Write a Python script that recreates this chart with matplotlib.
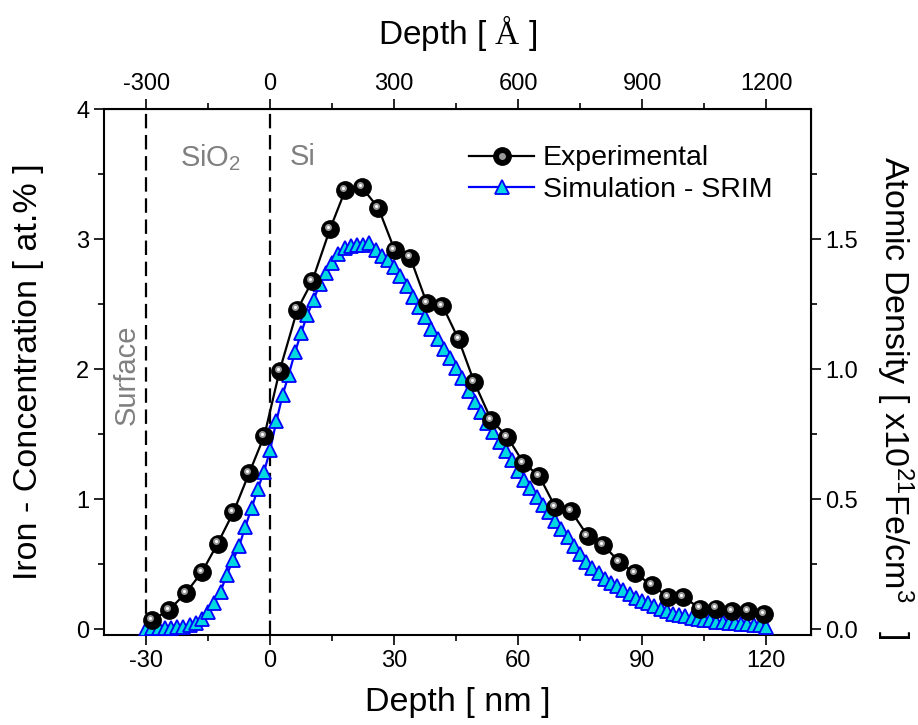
import matplotlib
matplotlib.use('Agg')
import matplotlib.pyplot as plt
import matplotlib.transforms as mtransforms
from matplotlib.lines import Line2D
from matplotlib.legend_handler import HandlerTuple
from matplotlib.ticker import MultipleLocator, FixedLocator, FormatStrFormatter
import numpy as np

plt.rcParams['font.family'] = ['Liberation Sans', 'DejaVu Sans']
plt.rcParams['axes.unicode_minus'] = False
plt.rcParams['mathtext.fontset'] = 'custom'
plt.rcParams['mathtext.rm'] = 'Liberation Sans'
plt.rcParams['mathtext.it'] = 'Liberation Sans:italic'
plt.rcParams['mathtext.cal'] = 'Liberation Serif'

# experimental profile (depth nm, at.%)
exp_depth = [-28.6, -24.4, -20.4, -16.5, -12.7, -8.9, -5.1, -1.4, 2.3, 6.6,
             10.2, 14.5, 18.2, 22.2, 26.2, 30.1, 33.9, 37.9, 41.7, 45.6,
             49.4, 53.5, 57.4, 61.3, 65.1, 69.0, 72.8, 76.8, 80.6, 84.4,
             88.3, 92.4, 96.2, 100.0, 104.0, 107.8, 111.7, 115.6, 119.6]
exp_conc = [0.07, 0.15, 0.28, 0.44, 0.66, 0.90, 1.20, 1.49, 1.99, 2.46,
            2.68, 3.08, 3.38, 3.40, 3.24, 2.92, 2.86, 2.51, 2.49, 2.23,
            1.90, 1.61, 1.48, 1.28, 1.18, 0.94, 0.91, 0.72, 0.65, 0.52,
            0.43, 0.34, 0.25, 0.25, 0.16, 0.16, 0.14, 0.14, 0.12]

# SRIM output, 1.5 nm bins from -30 to 120 nm
srim_depth = np.arange(-30, 120.1, 1.5)
srim_conc = [0.00, 0.01, 0.01, 0.01, 0.01, 0.02, 0.02, 0.03, 0.05, 0.08,
             0.13, 0.20, 0.29, 0.42, 0.53, 0.64, 0.79, 0.93, 1.08, 1.21,
             1.38, 1.60, 1.80, 1.96, 2.13, 2.28, 2.42, 2.53, 2.66, 2.74,
             2.82, 2.89, 2.93, 2.95, 2.96, 2.96, 2.97, 2.92, 2.87, 2.84,
             2.79, 2.72, 2.64, 2.56, 2.48, 2.40, 2.31, 2.23, 2.16, 2.09,
             2.01, 1.93, 1.83, 1.75, 1.67, 1.59, 1.52, 1.44, 1.37, 1.30,
             1.22, 1.15, 1.09, 1.02, 0.96, 0.90, 0.83, 0.77, 0.71, 0.64,
             0.58, 0.52, 0.47, 0.43, 0.39, 0.36, 0.33, 0.30, 0.27, 0.24,
             0.22, 0.20, 0.18, 0.16, 0.14, 0.12, 0.11, 0.10, 0.09, 0.08,
             0.07, 0.07, 0.06, 0.06, 0.05, 0.05, 0.04, 0.04, 0.03, 0.03,
             0.02]

fig = plt.figure(figsize=(9.18, 7.25), dpi=100)
ax = fig.add_axes([0.1133, 0.1241, 0.7698, 0.7251])

# interfaces
ax.axvline(-30, color='black', lw=1.6, ls=(0, (6.5, 3)), zorder=1)
ax.axvline(0, color='black', lw=1.6, ls=(0, (6.5, 3)), zorder=1)

sim_line, = ax.plot(srim_depth, srim_conc, '-', color='#0000ff', lw=1.6,
                    marker='^', ms=10, mfc='#00d8e0', mec='#0000ff', mew=1.3,
                    zorder=3)
exp_line, = ax.plot(exp_depth, exp_conc, '-', color='black', lw=1.6,
                    marker='o', ms=12.5, mfc='black', mec='black', zorder=4)
# little highlight so the dots look like spheres
offset = mtransforms.ScaledTranslation(-1.5 / 72, 1.5 / 72, fig.dpi_scale_trans)
ax.plot(exp_depth, exp_conc, ls='none', marker='o', ms=5, mfc='#9a9a9a',
        mec='none', transform=ax.transData + offset, zorder=5)
ax.plot(exp_depth, exp_conc, ls='none', marker='o', ms=2.2, mfc='white',
        mec='none', transform=ax.transData + offset, zorder=6)

ax.set_xlim(-40.2, 130.8)
ax.set_ylim(-0.044, 4)
ax.xaxis.set_major_locator(MultipleLocator(30))
ax.xaxis.set_minor_locator(MultipleLocator(15))
ax.yaxis.set_major_locator(MultipleLocator(1))
ax.yaxis.set_minor_locator(MultipleLocator(0.5))
ax.tick_params(which='major', direction='out', length=7, width=1.2, labelsize=17)
ax.tick_params(which='minor', direction='out', length=4, width=1.2)
for sp in ax.spines.values():
    sp.set_linewidth(1.5)

ax.set_xlabel('Depth [ nm ]', fontsize=24.5, labelpad=11)
ax.set_ylabel('Iron - Concentration [ at.% ]', fontsize=24.5, labelpad=23)

top = ax.secondary_xaxis('top', functions=(lambda x: x * 10, lambda x: x / 10))
top.xaxis.set_major_locator(MultipleLocator(300))
top.xaxis.set_minor_locator(MultipleLocator(150))
top.tick_params(which='major', direction='out', length=7, width=1.2, labelsize=17)
top.tick_params(which='minor', direction='out', length=4, width=1.2)
top.set_xlabel(r'Depth [ $\mathcal{Å}$ ]', fontsize=24, labelpad=21)

right = ax.secondary_yaxis('right', functions=(lambda y: y / 2, lambda y: y * 2))
right.yaxis.set_major_locator(FixedLocator([0.0, 0.5, 1.0, 1.5]))
right.yaxis.set_minor_locator(FixedLocator([0.25, 0.75, 1.25, 1.75]))
right.yaxis.set_major_formatter(FormatStrFormatter('%.1f'))
right.tick_params(which='major', direction='out', length=7, width=1.2, labelsize=17)
right.tick_params(which='minor', direction='out', length=4, width=1.2)

# right-hand label placed by hand, Origin leaves a wide gap before the bracket
fig.text(895 / 918, 1 - 398 / 725, r'Atomic Density [ x10$^{21}$Fe/cm$^{3}$   ]',
         fontsize=24.5, rotation=270, ha='center', va='center')

ax.text(-14.5, 3.63, r'SiO$_2$', color='#808080', fontsize=21, ha='center', va='center')
ax.text(4.8, 3.63, 'Si', color='#808080', fontsize=21, ha='left', va='center')
ax.text(-34.7, 1.96, 'Surface', color='#808080', fontsize=21, rotation=90,
        ha='center', va='center')

hl_proxy = Line2D([], [], ls='none', marker='o', ms=5, mfc='#9a9a9a', mec='none')
ax.legend([(exp_line, hl_proxy), sim_line], ['Experimental', 'Simulation - SRIM'],
          handler_map={tuple: HandlerTuple(ndivide=1)},
          loc='upper left', bbox_to_anchor=(0.48, 0.98), frameon=False,
          fontsize=20.5, handlelength=2.3, handletextpad=0.3, labelspacing=0.2)

fig.savefig('out.png', dpi=100)
